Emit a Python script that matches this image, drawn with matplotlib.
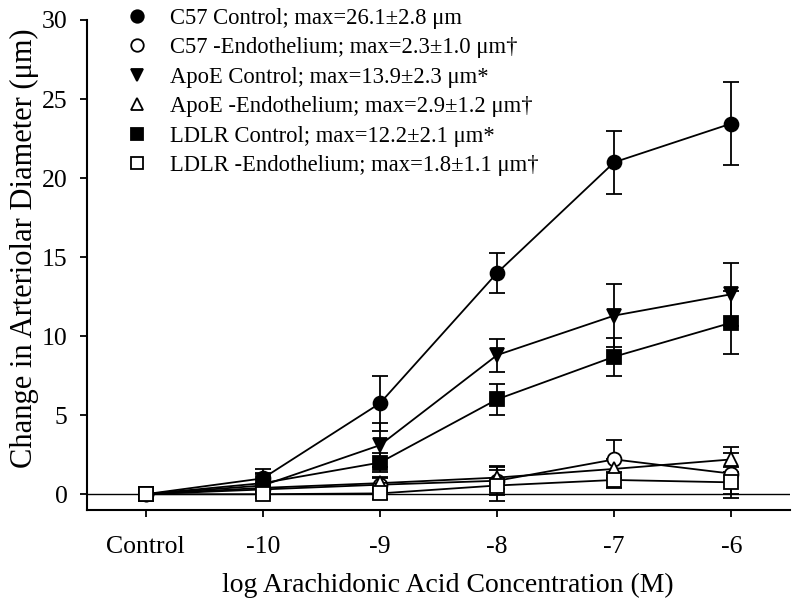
import matplotlib
matplotlib.use('Agg')
from matplotlib import pyplot as plt
from matplotlib.lines import Line2D

plt.rcParams['font.family'] = ['Liberation Serif', 'DejaVu Serif']

x_labels = ['Control', '-10', '-9', '-8', '-7', '-6']
x_pos = list(range(len(x_labels)))

c57_ctrl = [0, 1.0, 5.75, 14.0, 21.0, 23.45]
c57_ctrl_err = [0, 0.6, 1.75, 1.25, 2.0, 2.6]
c57_endo = [0, 0.3, 0.6, 0.85, 2.2, 1.3]
c57_endo_err = [0, 0.3, 0.4, 0.9, 1.2, 1.3]
apoe_ctrl = [0, 0.55, 3.1, 8.8, 11.3, 12.65]
apoe_ctrl_err = [0, 0.8, 1.4, 1.05, 2.0, 2.0]
apoe_endo = [0, 0.4, 0.7, 1.05, 1.6, 2.2]
apoe_endo_err = [0, 0.3, 0.4, 0.75, 0.6, 0.8]
ldlr_ctrl = [0, 0.7, 2.0, 6.0, 8.7, 10.85]
ldlr_ctrl_err = [0, 0.6, 0.6, 1.0, 1.2, 2.0]
ldlr_endo = [0, 0.0, 0.05, 0.55, 0.9, 0.75]
ldlr_endo_err = [0, 0.2, 0.35, 0.95, 0.5, 1.0]

labels = [
	'C57 Control; max=26.1\u00b12.8 \u03bcm',
	'C57 -Endothelium; max=2.3\u00b11.0 \u03bcm\u2020',
	'ApoE Control; max=13.9\u00b12.3 \u03bcm*',
	'ApoE -Endothelium; max=2.9\u00b11.2 \u03bcm\u2020',
	'LDLR Control; max=12.2\u00b12.1 \u03bcm*',
	'LDLR -Endothelium; max=1.8\u00b11.1 \u03bcm\u2020',
]

series = [
	(c57_ctrl, c57_ctrl_err, 'o', 'black'),
	(c57_endo, c57_endo_err, 'o', 'white'),
	(apoe_ctrl, apoe_ctrl_err, 'v', 'black'),
	(apoe_endo, apoe_endo_err, '^', 'white'),
	(ldlr_ctrl, ldlr_ctrl_err, 's', 'black'),
	(ldlr_endo, ldlr_endo_err, 's', 'white'),
]

fig = plt.figure(figsize=(7.98, 6.08), dpi=100)
ax = fig.add_axes([87 / 798, 1 - 510 / 608, (790 - 87) / 798, (510 - 20) / 608])

ax.axhline(0, color='black', lw=1.0, zorder=1)

handles = []
for (vals, errs, mk, fc), lab in zip(series, labels):
	ax.errorbar(x_pos, vals, yerr=errs, fmt='-', color='black', lw=1.3,
		elinewidth=1.3, capsize=5.5, capthick=1.3, marker=mk, markersize=10,
		markerfacecolor=fc, markeredgecolor='black', markeredgewidth=1.3, zorder=3)
	handles.append(Line2D([], [], linestyle='none', marker=mk, markersize=9,
		markerfacecolor=fc, markeredgecolor='black', markeredgewidth=1.3, label=lab))

ax.set_xlim(-0.5, 5.5)
ax.set_ylim(-1, 30)
ax.set_xticks(x_pos)
ax.set_xticklabels(x_labels)
ax.set_yticks([0, 5, 10, 15, 20, 25, 30])
ax.tick_params(axis='both', direction='out', length=5, width=1.3, labelsize=18.5)
ax.tick_params(axis='y', pad=9)
ax.tick_params(axis='x', pad=14)

for side in ['top', 'right']:
	ax.spines[side].set_visible(False)
for side in ['left', 'bottom']:
	ax.spines[side].set_linewidth(1.5)

ax.set_xlabel('log Arachidonic Acid Concentration (M)', fontsize=20)
ax.set_ylabel('Change in Arteriolar Diameter (\u03bcm)', fontsize=22)
ax.xaxis.set_label_coords(0.513, -0.128)
ax.yaxis.set_label_coords(-0.068, 0.535)

leg = ax.legend(handles=handles, loc='upper left', bbox_to_anchor=(126 / 798, 1 - 8 / 608),
	bbox_transform=fig.transFigure, frameon=False, fontsize=16.3, handlelength=1.0,
	handletextpad=0.95, labelspacing=0.37, borderpad=0, borderaxespad=0)

fig.savefig('out.png', dpi=100)
plt.close()
